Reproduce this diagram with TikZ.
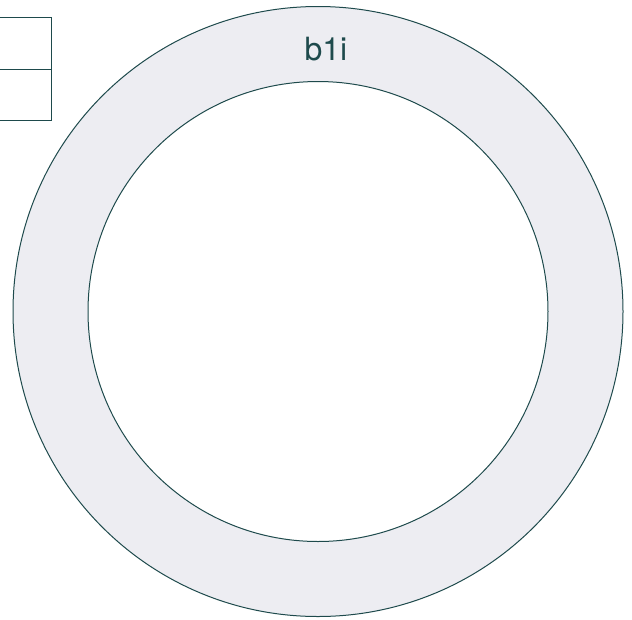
\documentclass[tikz,border=0pt]{standalone}
\usepackage{fontspec}
\newfontfamily\labelfont{TeX Gyre Heros}
\definecolor{edge}{HTML}{1E4A4C}
\definecolor{ring}{HTML}{EDEDF2}
\begin{document}
\begin{tikzpicture}[x=1pt,y=-1pt,
  outline/.style={draw=edge,line width=1pt},
  label/.style={text=edge,font=\labelfont\fontsize{32}{38}\selectfont,inner sep=0pt}]
\useasboundingbox (0,0) rectangle (632,619);
\clip (0,0) rectangle (632,619);
% two stacked cells at the upper left
\node[outline,fill=white,minimum width=72pt,minimum height=52pt,inner sep=0pt,anchor=north east] (cellA) at (52,17) {};
\node[outline,fill=white,minimum width=72pt,minimum height=51pt,inner sep=0pt,anchor=north east] (cellB) at (52,69) {};
% ring
\node[outline,fill=ring,circle,minimum size=610pt,inner sep=0pt] (outer) at (318,311.5) {};
\node[outline,fill=white,circle,minimum size=460pt,inner sep=0pt] (inner) at (318,311.5) {};
\node[label,anchor=base] (title) at (326,60) {b1i};
\end{tikzpicture}
\end{document}
